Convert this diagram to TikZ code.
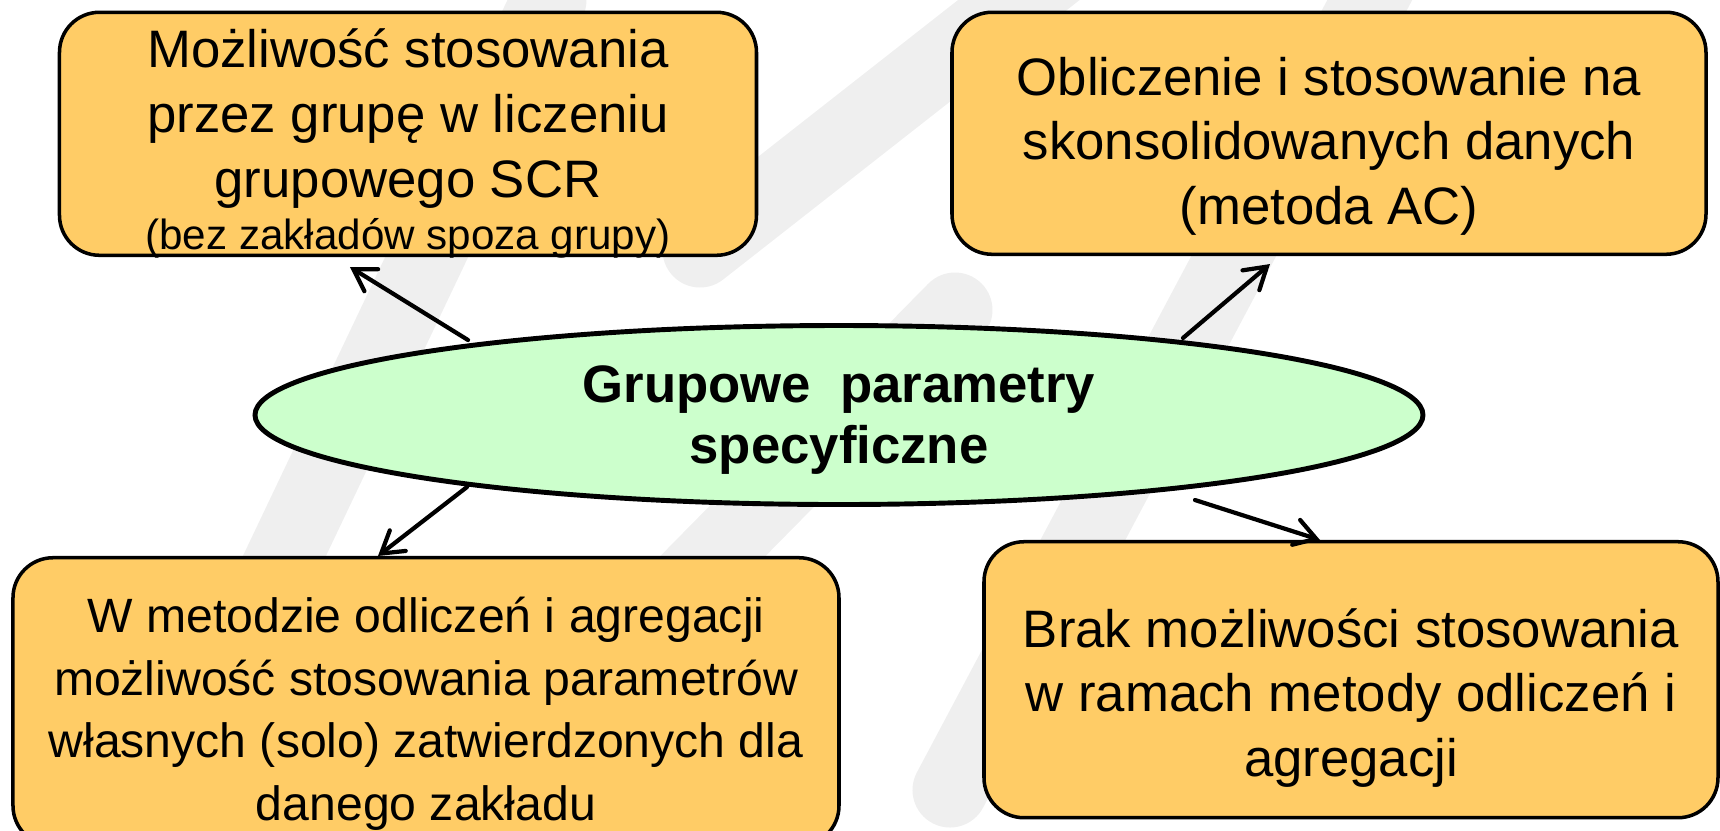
\documentclass[tikz,border=0pt]{standalone}
\usepackage{fontspec}
\setmainfont{Liberation Sans}
\usepackage{xcolor}
\usepackage{tikz}
\usetikzlibrary{positioning, arrows.meta, shapes.geometric}
\definecolor{boxfill}{HTML}{FFCC66}
\definecolor{ovalfill}{HTML}{CCFFCC}
\definecolor{wmgray}{HTML}{EFEFEF}

\begin{document}
\begin{tikzpicture}[
    node distance=7mm,
    box/.style={
        draw,
        line width=1pt,
        rounded corners=4mm,
        fill=boxfill,
        inner sep=0pt
    },
    boxtext/.style={
        align=center,
        inner sep=0pt,
        font=\fontsize{15}{18.4}\selectfont
    },
    oval/.style={
        ellipse,
        draw,
        line width=1.4pt,
        fill=ovalfill,
        align=center,
        inner sep=0pt,
        text depth=0pt,
        minimum width=116.8mm,
        minimum height=17.9mm,
        font=\bfseries\fontsize{15}{17.4}\selectfont
    },
    arrow/.style={-{Straight Barb[length=2.1mm,width=2.6mm,line cap=round]}, line width=1.2pt, line cap=round},
    wmstroke/.style={wmgray, line width=7.5mm, line cap=round}
]

\clip (-83.9mm,-41.5mm) rectangle (88.1mm,41.5mm);

% faint strokes in the background
\draw[wmstroke] (-29mm,41.5mm) -- (-68.5mm,-41.5mm);
\draw[wmstroke] (-13.9mm,16.5mm) -- (25mm,47mm);
\draw[wmstroke] (56mm,47mm) -- (11.1mm,-37.5mm);
\draw[wmstroke] (11.6mm,10.5mm) -- (-18.9mm,-20.5mm);

\node[oval] (grp) at (0,0) {Grupowe~~parametry\\specyficzne};

% the four boxes, then their texts
\node[box, minimum width=69.7mm, minimum height=24.3mm, above=6.6mm of grp, xshift=-43.1mm] (grpscr) {};
\node[box, minimum width=75.4mm, minimum height=24.2mm, above=6.7mm of grp, xshift=49mm] (consol) {};
\node[box, minimum width=82.6mm, minimum height=28.8mm, below=4.9mm of grp, xshift=-41.3mm] (solo) {};
\node[box, minimum width=73.4mm, minimum height=27.6mm, below=3.3mm of grp, xshift=51.2mm] (noagg) {};

\node[boxtext] (grpscrtext) at ([yshift=-1mm]grpscr.center)
    {Możliwość stosowania\\przez grupę w liczeniu\\grupowego SCR\\[-3.4pt]{\fontsize{12}{14}\selectfont(bez zakładów spoza grupy)}};
\node[boxtext] (consoltext) at ([yshift=-1.3mm]consol.center)
    {Obliczenie i stosowanie na\\skonsolidowanych danych\\(metoda AC)};
\node[boxtext, font=\fontsize{13.7}{17.9}\selectfont] (solotext) at ([yshift=-1.2mm]solo.center)
    {W metodzie odliczeń i agregacji\\możliwość stosowania parametrów\\własnych (solo) zatwierdzonych dla\\danego zakładu};
\node[boxtext] (noaggtext) at ([yshift=-1.8mm]noagg.center)
    {Brak możliwości stosowania\\w ramach metody odliczeń i\\agregacji};

\draw[arrow] ([xshift=-37.1mm,yshift=7.5mm]grp.center) -- ([xshift=-5.8mm,yshift=-1mm]grpscr.south);
\draw[arrow] ([xshift=34.4mm,yshift=7.7mm]grp.center) -- ([xshift=-5.9mm,yshift=-0.8mm]consol.south);
\draw[arrow] ([xshift=-37.2mm,yshift=-7.2mm]grp.center) -- ([xshift=-4.8mm]solo.north);
\draw[arrow] ([xshift=35.6mm,yshift=-8.5mm]grp.center) -- ([xshift=-3.1mm]noagg.north);

\end{tikzpicture}
\end{document}
